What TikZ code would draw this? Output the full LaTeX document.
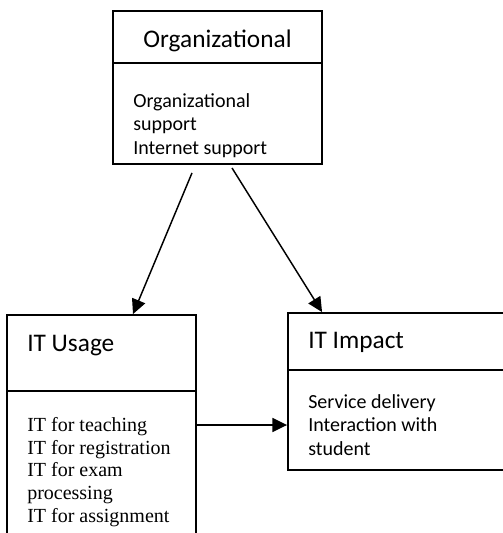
\documentclass[tikz,border=0pt]{standalone}
\usepackage{fontspec}
\setmainfont{Liberation Serif}
\newfontfamily\calib{Carlito}
\usetikzlibrary{arrows.meta,positioning}

\begin{document}
\begin{tikzpicture}[x=0.75pt,y=-0.75pt,
  box/.style={draw,line width=1.4pt,rectangle,inner sep=0pt},
  divider/.style={line width=1.4pt},
  head/.style={inner sep=0pt,font=\calib\fontsize{19}{22}\selectfont},
  body/.style={inner sep=0pt,align=left,anchor=base west,font=\calib\fontsize{15}{17.6}\selectfont},
  tbody/.style={inner sep=0pt,align=left,anchor=base west,font=\fontsize{15}{17}\selectfont},
  arr/.style={line width=1.1pt,-{Triangle[length=11pt,width=10.5pt]}}]
\useasboundingbox (0,0) rectangle (503,533);

% the three boxes
\node[box,minimum width=209*0.75pt,minimum height=153*0.75pt] (org) at (217.5,87.5) {};
\node[box,minimum width=189*0.75pt,minimum height=240*0.75pt] (usage) at (101.5,435) {};
\node[box,minimum width=260*0.75pt,minimum height=157*0.75pt] (impact) at (418,391.5) {};

\draw[divider] (113,63) -- (322,63);
\draw[divider] (7,391) -- (196,391);
\draw[divider] (288,370) -- (548,370);

% headings
\node[head,anchor=base] (orghead) at (217.5,47) {Organizational};
\node[head,anchor=base west] (usagehead) at (27,351) {IT Usage};
\node[head,anchor=base west] (impacthead) at (308,348) {IT Impact};

% contents (anchored on the last line)
\node[body] (orgtext) at (133,154) {Organizational\\support\\Internet support};
\node[tbody] (usagetext) at (27,522) {IT for teaching\\IT for registration\\IT for exam\\processing\\IT for assignment};
\node[body] (impacttext) at (308,455) {Service delivery\\Interaction with\\student};

% links
\draw[arr] ([shift={(-25.5,8)}]org.south) -- ([xshift=31.5*0.75pt]usage.north);
\draw[arr] ([shift={(14.5,3)}]org.south) -- ([xshift=35*0.75pt]impact.north west);
\coordinate (h) at ([shift={(0,-10)}]usage.east);
\draw[arr] (h) -- (h -| impact.west);
\end{tikzpicture}
\end{document}
